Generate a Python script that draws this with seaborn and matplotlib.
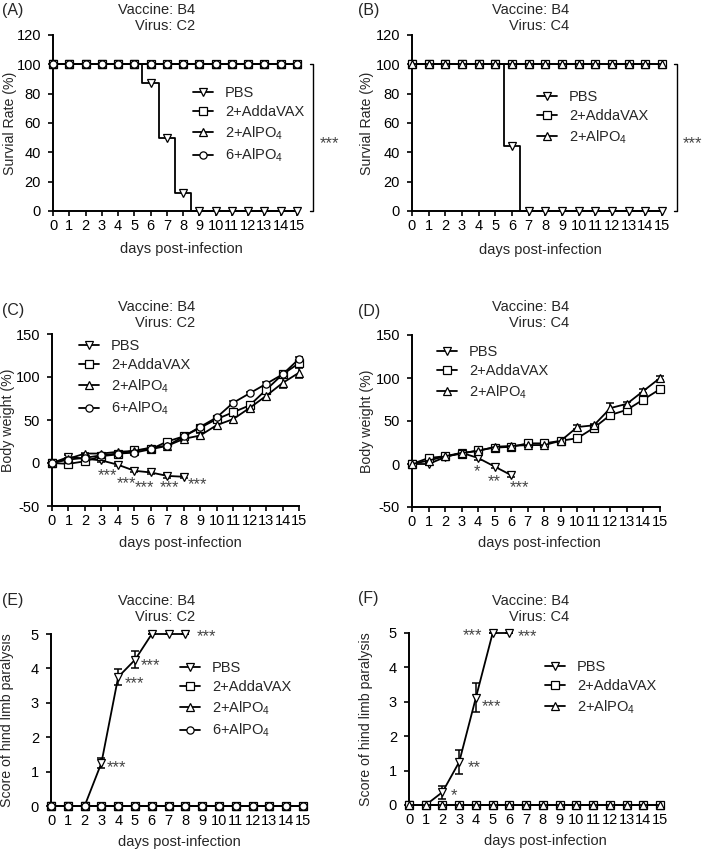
import numpy as np
import pandas as pd
import seaborn as sns
import matplotlib.pyplot as plt

sns.set_style('ticks')
plt.rcParams['font.family'] = ['Liberation Sans', 'DejaVu Sans']
plt.rcParams['mathtext.fontset'] = 'custom'
plt.rcParams['mathtext.rm'] = 'Liberation Sans'
plt.rcParams['mathtext.default'] = 'regular'
plt.rcParams['axes.unicode_minus'] = False
plt.rcParams['font.size'] = 10

# ---- data ----
days = [0, 1, 2, 3, 4, 5, 6, 7, 8, 9, 10, 11, 12, 13, 14, 15]
groups_c2 = ['PBS', '2+AddaVAX', '2+AlPO$_4$', '6+AlPO$_4$']
groups_c4 = ['PBS', '2+AddaVAX', '2+AlPO$_4$']

# survival (%)
surv_a_pbs = [100, 100, 100, 100, 100, 100, 87.5, 50, 12.5, 0, 0, 0, 0, 0, 0, 0]
surv_b_pbs = [100, 100, 100, 100, 100, 100, 44.4, 0, 0, 0, 0, 0, 0, 0, 0, 0]
surv_full = [100, 100, 100, 100, 100, 100, 100, 100, 100, 100, 100, 100, 100, 100, 100, 100]

# body weight (%) panel C
bw_c_pbs = [0, 7, 5, 3, -2, -9, -11, -15, -16]
bw_c_pbs_err = [0, 2, 2, 2, 2, 2, 2, 2, 2]
bw_c_adda = [0, -1, 2, 8, 10, 15, 16, 25, 31, 41, 51, 59, 67, 85, 103, 116]
bw_c_adda_err = [0, 1, 1, 1, 1, 2, 2, 2, 2, 2, 3, 3, 4, 5, 3, 3]
bw_c_alpo2 = [0, 5, 11, 11, 13, 14, 18, 20, 28, 32, 44, 51, 64, 78, 93, 105]
bw_c_alpo2_err = [0, 1, 1, 1, 1, 1, 2, 2, 2, 3, 3, 4, 4, 5, 6, 6]
bw_c_alpo6 = [0, 4, 6, 9, 11, 12, 16, 20, 31, 42, 53, 70, 81, 92, 103, 121]
bw_c_alpo6_err = [0, 1, 1, 1, 1, 1, 1, 2, 2, 2, 2, 2, 2, 2, 2, 2]

# body weight (%) panel D
bw_d_pbs = [0, 0, 8, 13, 7, -3, -13]
bw_d_pbs_err = [0, 1, 1, 2, 2, 2, 2]
bw_d_adda = [0, 7, 9, 12, 16, 19, 20, 24, 24, 27, 30, 42, 57, 63, 75, 87]
bw_d_adda_err = [0, 1, 1, 1, 1, 1, 1, 1, 1, 1, 2, 2, 3, 2, 2, 2]
bw_d_alpo2 = [0, 4, 9, 13, 15, 20, 21, 22, 22, 27, 43, 45, 65, 70, 85, 100]
bw_d_alpo2_err = [0, 1, 1, 1, 1, 1, 1, 1, 1, 1, 2, 2, 6, 2, 2, 2]

# paralysis score
score_e_pbs = [0, 0, 0, 1.25, 3.75, 4.25, 5, 5, 5]
score_e_pbs_err = [0, 0, 0, 0.15, 0.23, 0.25, 0, 0, 0]
score_f_pbs = [0, 0, 0.375, 1.25, 3.125, 5, 5]
score_f_pbs_err = [0, 0, 0.19, 0.36, 0.43, 0, 0]
score_zero = [0, 0, 0, 0, 0, 0, 0, 0, 0, 0, 0, 0, 0, 0, 0, 0]

markers = ['v', 's', '^', 'o']

W, H = 702, 851
fig = plt.figure(figsize=(W / 100, H / 100), dpi=100)


def px_axes(left, right, top, bottom):
    ax = fig.add_axes([left / W, 1 - bottom / H, (right - left) / W, (bottom - top) / H])
    ax._px = (left, right, top, bottom)
    return ax


def draw(ax, ys, errs, labels, step=False):
    for i, (y, lab) in enumerate(zip(ys, labels)):
        x = days[:len(y)]
        kw = dict(drawstyle='steps-mid') if step else {}
        sns.lineplot(x=x, y=y, ax=ax, color='black', linewidth=1.3, marker=markers[i],
                     markersize=5.2, markerfacecolor='white', markeredgecolor='black',
                     markeredgewidth=0.9, label=lab, clip_on=False, zorder=3 + i, **kw)
        if errs is not None and errs[i] is not None:
            ax.errorbar(x, y, yerr=errs[i], fmt='none', ecolor='black', elinewidth=1.1,
                        capsize=3, capthick=1.1, clip_on=False, zorder=2)


def style(ax, ylim, yticks, ylabel, ylab_x, xlab_x, xlab_y):
    ax.set_xlim(0, 15)
    ax.set_ylim(*ylim)
    ax.set_xticks(days)
    ax.set_yticks(yticks)
    ax.tick_params(direction='out', length=3.6, width=1.2, labelsize=10.5, colors='black')
    ax.tick_params(axis='x', pad=2)
    ax.tick_params(axis='y', pad=5)
    for s in ['left', 'bottom']:
        ax.spines[s].set_linewidth(1.4)
        ax.spines[s].set_color('black')
    sns.despine(ax=ax)
    left, right, top, bottom = ax._px
    ax.set_xlabel('days post-infection', fontsize=10.5)
    ax.set_ylabel(ylabel, fontsize=10.2)
    ax.xaxis.set_label_coords((xlab_x - left) / (right - left), (bottom - xlab_y) / (bottom - top))
    ax.yaxis.set_label_coords((ylab_x - left) / (right - left), 0.5)
    ax.xaxis.label.set_va('center')
    ax.yaxis.label.set_va('center')


def legend(ax, xpx, ypx):
    ax.legend(loc='center left', bbox_to_anchor=(xpx / W, 1 - ypx / H), bbox_transform=fig.transFigure,
              frameon=False, fontsize=10.5, handlelength=1.4, handletextpad=0.8, labelspacing=0.35,
              borderpad=0, borderaxespad=0)


def title(xpx, ypx, virus):
    fig.text(xpx / W, 1 - ypx / H, 'Vaccine: B4\nVirus: ' + virus, ha='right', va='center',
             multialignment='right', fontsize=10.5, linespacing=1.1)


def stars(ax, x, y, s):
    ax.text(x, y, s, ha='center', va='center', fontsize=12, color='#444444', clip_on=False)


# ---- (A) ----
axA = px_axes(53, 297, 35, 211)
draw(axA, [surv_a_pbs, surv_full, surv_full, surv_full], None, groups_c2, step=True)
style(axA, (0, 120), [0, 20, 40, 60, 80, 100, 120], 'Survial Rate (%)', 10, 181, 249)
legend(axA, 193, 125)
axA.plot([15.78, 15.98, 15.98, 15.78], [100, 100, 0, 0], color='black', lw=1.0, clip_on=False)
stars(axA, 17.0, 46, '***')

# ---- (B) ----
axB = px_axes(412, 662, 35, 211)
draw(axB, [surv_b_pbs, surv_full, surv_full], None, groups_c4, step=True)
style(axB, (0, 120), [0, 20, 40, 60, 80, 100, 120], 'Survial Rate (%)', 367, 540, 250)
legend(axB, 537, 118)
axB.plot([15.7, 15.9, 15.9, 15.7], [100, 100, 0, 0], color='black', lw=1.0, clip_on=False)
stars(axB, 16.8, 46, '***')

# ---- (C) ----
axC = px_axes(52, 299, 334, 506)
draw(axC, [bw_c_pbs, bw_c_adda, bw_c_alpo2, bw_c_alpo6],
     [bw_c_pbs_err, bw_c_adda_err, bw_c_alpo2_err, bw_c_alpo6_err], groups_c2)
style(axC, (-50, 150), [-50, 0, 50, 100, 150], 'Body weight (%)', 8, 180, 543)
legend(axC, 79, 378)
for x, y in [(3.37, -14.5), (4.5, -23.5), (5.6, -29), (7.13, -29), (8.85, -25)]:
    stars(axC, x, y, '***')

# ---- (D) ----
axD = px_axes(412, 660, 335, 507)
draw(axD, [bw_d_pbs, bw_d_adda, bw_d_alpo2], [bw_d_pbs_err, bw_d_adda_err, bw_d_alpo2_err], groups_c4)
style(axD, (-50, 150), [-50, 0, 50, 100, 150], 'Body weight (%)', 367, 539, 543)
legend(axD, 437, 373)
for x, y, s in [(3.94, -9, '*'), (4.95, -20, '**'), (6.5, -28, '***')]:
    stars(axD, x, y, s)

# ---- (E) ----
axE = px_axes(51, 303, 634, 806)
draw(axE, [score_e_pbs, score_zero, score_zero, score_zero], [score_e_pbs_err, None, None, None], groups_c2)
style(axE, (0, 5), [0, 1, 2, 3, 4, 5], 'Score of hind limb paralysis', 7, 179, 842)
legend(axE, 180, 700)
for x, y in [(3.9, 1.11), (4.99, 3.55), (5.92, 4.09), (9.25, 4.93)]:
    stars(axE, x, y, '***')

# ---- (F) ----
axF = px_axes(409, 660, 633, 805)
draw(axF, [score_f_pbs, score_zero, score_zero], [score_f_pbs_err, None, None], groups_c4)
style(axF, (0, 5), [0, 1, 2, 3, 4, 5], 'Score of hind limb paralysis', 366, 545, 841)
legend(axF, 545, 688)
for x, y, s in [(2.69, 0.28, '*'), (3.92, 1.1, '**'), (4.92, 2.87, '***'), (3.78, 4.91, '***'), (7.11, 4.89, '***')]:
    stars(axF, x, y, s)

# titles and panel letters
for xp, yp, v in [(195, 18, 'C2'), (569, 18, 'C4'), (195, 315, 'C2'), (569, 315, 'C4'), (195, 609, 'C2'), (569, 609, 'C4')]:
    title(xp, yp, v)
for xp, yp, s in [(2, 10, '(A)'), (358, 10, '(B)'), (2, 310, '(C)'), (358, 311, '(D)'), (2, 601, '(E)'), (358, 599, '(F)')]:
    fig.text(xp / W, 1 - yp / H, s, ha='left', va='center', fontsize=11.5)

fig.savefig('out.png', dpi=100)
